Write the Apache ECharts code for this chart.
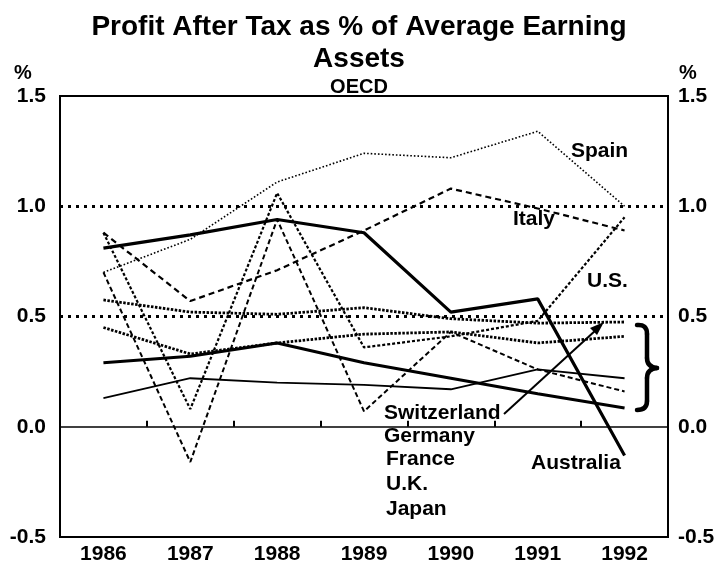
<!DOCTYPE html>
<html>
<head>
<meta charset="utf-8">
<script src="https://cdn.jsdelivr.net/npm/echarts@6/dist/echarts.min.js"></script>
<style>
  html, body { margin: 0; padding: 0; background: #fff; }
  #chart { width: 718px; height: 565px; }
</style>
</head>
<body>
<div id="chart"></div>
<script>
  // values (% of average earning assets)
  var years = ['1986', '1987', '1988', '1989', '1990', '1991', '1992']
  var spain = [0.70, 0.85, 1.11, 1.24, 1.22, 1.34, 1.00]
  var italy = [0.88, 0.57, 0.71, 0.89, 1.08, 0.99, 0.89]
  var us = [0.88, 0.08, 1.06, 0.36, 0.41, 0.48, 0.95]
  var australia = [0.81, 0.87, 0.94, 0.88, 0.52, 0.58, -0.13]
  var switzerland = [0.575, 0.52, 0.51, 0.54, 0.49, 0.47, 0.475]
  var germany = [0.45, 0.33, 0.38, 0.42, 0.43, 0.38, 0.41]
  var france = [0.13, 0.22, 0.20, 0.19, 0.17, 0.26, 0.22]
  var uk = [0.70, -0.16, 0.94, 0.07, 0.43, 0.26, 0.16]
  var japan = [0.29, 0.32, 0.38, 0.29, 0.22, 0.15, 0.085]
  var refLines = [1.0, 0.5]

  var FONT = "'Liberation Sans', Arial, sans-serif"

  var chart = echarts.init(document.getElementById('chart'))

  function line(name, data, width, type) {
    return {
      name: name,
      type: 'line',
      data: data,
      symbol: 'none',
      silent: true,
      animation: false,
      lineStyle: { color: '#000', width: width, type: type, cap: 'butt' },
      z: 3
    }
  }

  function label(text, x, y) {
    return {
      type: 'text',
      x: x,
      y: y,
      style: { text: text, fill: '#000', font: 'bold 21px ' + FONT }
    }
  }

  function seg(x1, y1, x2, y2) {
    return { type: 'line', shape: { x1: x1, y1: y1, x2: x2, y2: y2 }, style: { stroke: '#000', lineWidth: 4.5, lineCap: 'round' } }
  }
  function curve(x1, y1, cx, cy, x2, y2) {
    return { type: 'bezierCurve', shape: { x1: x1, y1: y1, cpx1: cx, cpy1: cy, x2: x2, y2: y2 }, style: { stroke: '#000', lineWidth: 4.5, fill: null, lineCap: 'round' } }
  }

  var yAxisBase = {
    type: 'value',
    min: -0.5,
    max: 1.5,
    interval: 0.5,
    axisLine: { show: false },
    axisTick: { show: false },
    splitLine: { show: false },
    axisLabel: {
      color: '#000',
      fontSize: 21,
      fontWeight: 'bold',
      fontFamily: FONT,
      formatter: function (v) { return v.toFixed(1) }
    }
  }

  var series = [
    line('Spain', spain, 1.6, [1.6, 2]),
    line('Italy', italy, 2.2, [6, 4]),
    line('U.S.', us, 2.2, [3, 2]),
    line('Australia', australia, 3.2, 'solid'),
    line('Switzerland', switzerland, 2.8, [2.5, 1.5]),
    line('Germany', germany, 2.8, [2.5, 1.5]),
    line('France', france, 1.8, 'solid'),
    line('U.K.', uk, 2, [5, 3]),
    line('Japan', japan, 3, 'solid')
  ]

  series[0].markLine = {
    silent: true,
    symbol: 'none',
    label: { show: false },
    animation: false,
    data: refLines.map(function (v) {
      return { yAxis: v, lineStyle: { color: '#000', width: 3, type: [3, 5] } }
    }).concat([{ yAxis: 0, lineStyle: { color: '#000', width: 1.5, type: 'solid' } }])
  }

  chart.setOption({
    backgroundColor: '#fff',
    animation: false,
    title: [{
      text: 'Profit After Tax as % of Average Earning\nAssets',
      left: 'center',
      top: 6,
      textStyle: { fontSize: 28, fontWeight: 'bold', fontFamily: FONT, color: '#000', lineHeight: 32 }
    }, {
      text: 'OECD',
      left: 'center',
      top: 72,
      textStyle: { fontSize: 20, fontWeight: 'bold', fontFamily: FONT, color: '#000' }
    }],
    grid: {
      left: 60,
      right: 50,
      top: 96,
      bottom: 28,
      show: true,
      borderColor: '#000',
      borderWidth: 2
    },
    xAxis: {
      type: 'category',
      data: years,
      boundaryGap: true,
      axisLine: { show: false },
      axisTick: { show: true, inside: true, length: 6, lineStyle: { color: '#000', width: 2 } },
      axisLabel: { color: '#000', fontSize: 21, fontWeight: 'bold', fontFamily: FONT, margin: 7 },
      splitLine: { show: false }
    },
    yAxis: [
      Object.assign({}, yAxisBase, { position: 'left', axisLabel: Object.assign({}, yAxisBase.axisLabel, { margin: 14 }) }),
      Object.assign({}, yAxisBase, { position: 'right', axisLabel: Object.assign({}, yAxisBase.axisLabel, { margin: 10 }) })
    ],
    series: series,
    graphic: [
      { type: 'text', x: 14, y: 63, style: { text: '%', fill: '#000', font: 'bold 20px ' + FONT } },
      { type: 'text', x: 679, y: 63, style: { text: '%', fill: '#000', font: 'bold 20px ' + FONT } },
      label('Spain', 571, 141),
      label('Italy', 513, 209),
      label('U.S.', 587, 271),
      label('Australia', 531, 453),
      label('Switzerland', 384, 403),
      label('Germany', 384, 426),
      label('France', 386, 449),
      label('U.K.', 386, 474),
      label('Japan', 386, 499),
      // pointer from Switzerland label
      {
        type: 'polyline',
        shape: { points: [[504, 414], [596, 330]] },
        style: { stroke: '#000', lineWidth: 2, fill: null }
      },
      {
        type: 'polygon',
        shape: { points: [[604, 322], [590, 328], [597, 335]] },
        style: { fill: '#000' }
      },
      // brace grouping the lower series
      curve(637, 325, 647, 324, 647, 334),
      seg(647, 334, 647, 358),
      curve(647, 358, 647, 367, 657, 368),
      curve(657, 368, 647, 369, 647, 378),
      seg(647, 378, 647, 401),
      curve(647, 401, 647, 410, 637, 410)
    ]
  })
</script>
</body>
</html>
